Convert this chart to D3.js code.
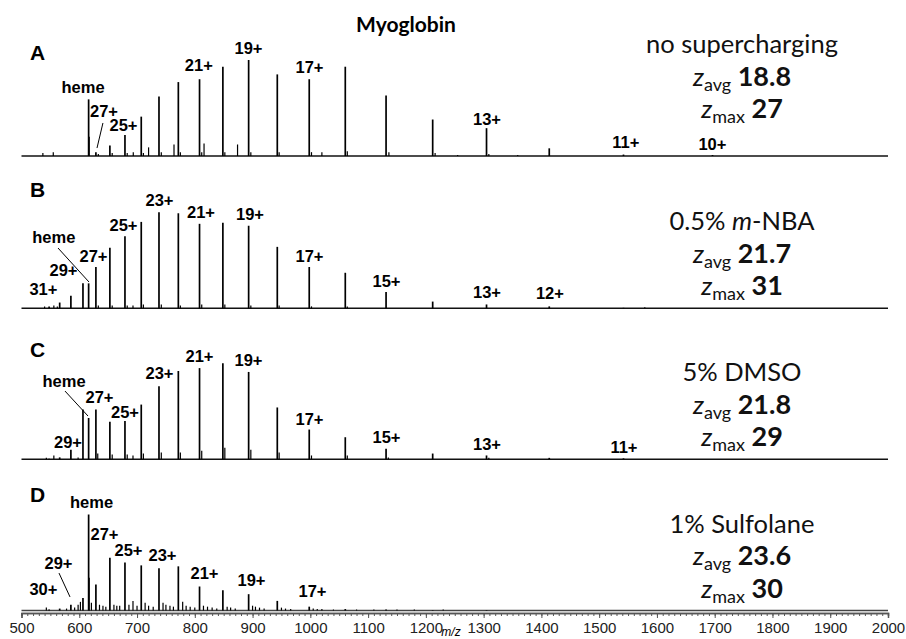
<!DOCTYPE html>
<html>
<head>
<meta charset="utf-8">
<script src="https://cdn.jsdelivr.net/npm/d3@7"></script>
<style>
  body { margin: 0; background: #fff; }
  svg { display: block; }
  .peak { stroke: #000; stroke-width: 1.7; }
  .minor { stroke: #000; stroke-width: 1.2; }
  .charge { font-family: "Liberation Sans", Arial, sans-serif; font-weight: bold; font-size: 16.5px; fill: #000; }
  .panelLetter { font-family: "Liberation Sans", Arial, sans-serif; font-weight: bold; font-size: 21px; }
  .cond { font-family: Lato, "Open Sans", sans-serif; font-size: 25.5px; fill: #111; }
  .axisLabels { font-family: "Liberation Sans", Arial, sans-serif; font-size: 15px; fill: #222; }
</style>
</head>
<body>
<div id="chart"></div>
<script>
// charge states of myoglobin and their m/z (read from the peak positions)
var chargeStates = [31, 30, 29, 28, 27, 26, 25, 24, 23, 22, 21, 20, 19, 18, 17, 16, 15, 14, 13, 12, 11, 10];
var peakMz = [547.8, 566.1, 585.5, 606.4, 628.8, 653.0, 679.1, 707.3, 738.0, 771.5, 808.2, 848.6,
              893.2, 942.8, 998.1, 1060.5, 1131.1, 1211.8, 1305.0, 1413.6, 1542.1, 1696.2];
var hemeMz = 616.2;

// relative intensities (%) per panel, same order as chargeStates
var intensA = [0, 0, 0, 0, 4, 11, 22, 41, 62, 77, 80, 93, 100, 85, 80, 93, 63, 38, 29, 8, 1.5, 1];
var intensB = [2, 6, 13, 26, 43, 63, 75, 90, 100, 99, 88, 89, 86, 64, 43, 37, 17, 7, 4, 2, 0.5, 0];
var intensC = [0.5, 2, 10, 52, 52, 39, 40, 57, 76, 92, 95, 100, 91, 54, 31, 23, 11, 6, 4, 1.5, 1, 0];
var intensD = [1, 2, 6, 13, 27, 55, 50, 47, 44, 46, 25, 21, 17, 10, 4, 1.5, 1, 0.5, 0.5, 0, 0, 0];
var hemeInt = [59, 26, 43, 100];

// small peaks (adducts / noise) per panel: [m/z, %]
var minorA = [[537, 3], [555, 4], [617.2, 20], [633, 2], [657, 3], [683, 3], [693.5, 4], [711, 3], [720, 9],
              [742, 4], [764, 12], [775, 4], [812, 4], [816, 13], [852, 4], [874, 12], [897, 4], [946, 4],
              [1002, 4], [1020, 4], [1064, 5], [1136, 4], [1216, 3], [1255, 1], [1309, 2], [1359, 1]];
var minorB = [[540, 2], [556, 3], [562, 2], [633, 3], [657, 3], [683, 3], [693, 3], [711, 4], [742, 4],
              [775, 3], [812, 4], [852, 4], [897, 3], [946, 3], [1002, 2], [1064, 2], [1579, 1]];
var minorC = [[543, 1.5], [556, 4], [598, 2], [632, 6], [657, 5], [683, 5], [693, 4], [711, 6], [742, 7],
              [775, 7], [812, 9], [852, 12], [897, 10], [946, 7], [1002, 4], [1064, 4], [1135, 2], [1309, 1.5]];
var minorD = [[543, 3], [578, 2], [592, 3], [598, 6], [602, 9], [617.2, 34], [621, 8], [635, 6], [641, 5],
              [646, 4], [660, 6], [665, 5], [670, 5], [686, 6], [693, 10], [700, 5], [714, 8], [720, 5],
              [728, 4], [745, 8], [750, 6], [757, 5], [763, 4], [779, 9], [785, 5], [792, 4], [800, 3],
              [815, 5], [822, 4], [830, 3], [838, 2], [856, 4], [862, 3], [870, 2], [900, 5], [905, 4],
              [912, 3], [920, 2], [950, 3], [957, 2], [966, 1.5], [1005, 2], [1012, 1.5], [1020, 1.5],
              [1040, 1], [1080, 1], [1110, 1], [1150, 1], [1180, 1], [1230, 1]];

// charge-state labels: [text, m/z, level %]
var labelsA = [["heme", 606.5, 65.6], ["27+", 642.8, 40.6], ["25+", 676.6, 26], ["21+", 807, 88.5],
               ["19+", 893, 106], ["17+", 998.5, 86.5], ["13+", 1305.8, 32.3], ["11+", 1546, 8.3], ["10+", 1696, 6.3]];
var labelsB = [["heme", 556, 68], ["29+", 572.7, 33.6], ["27+", 624.6, 48.2], ["31+", 538, 13.9],
               ["25+", 676.6, 80.5], ["23+", 738.9, 106.6], ["21+", 810.7, 94], ["19+", 895.5, 92],
               ["17+", 998.5, 48.2], ["15+", 1131.8, 22.2], ["13+", 1305.8, 10.7], ["12+", 1414.8, 9.7]];
var labelsC = [["heme", 573.6, 75.3], ["27+", 635, 58.6], ["25+", 679.2, 43], ["23+", 738.9, 83.6],
               ["21+", 808.1, 101.4], ["19+", 893, 97.2], ["17+", 998.5, 35.7], ["15+", 1131.8, 17],
               ["29+", 580.5, 11.8], ["13+", 1305.8, 9.7], ["11+", 1542.9, 6.6]];
var labelsD = [["heme", 621.2, 106.8], ["27+", 643.7, 73.4], ["25+", 685.2, 56.8], ["23+", 744.1, 51.6],
               ["21+", 816.8, 32.8], ["19+", 898.1, 25.5], ["17+", 1003.7, 14.1], ["29+", 564, 43.2], ["30+", 538, 16.1]];

// leader lines: [m/z1, level1, m/z2, level2]
var leadersA = [[641, 34.4, 630.7, 8.3]];
var leadersB = [[563.2, 62.8, 616.8, 27.4]];
var leadersC = [[575.3, 71.1, 615.1, 45.1]];
var leadersD = [[564.9, 39, 584, 14.1]];

var conditions = [["no supercharging"], ["0.5% ", "m", "-NBA"], ["5% DMSO"], ["1% Sulfolane"]];
var zAvg = ["18.8", "21.7", "21.8", "23.6"];
var zMax = ["27", "31", "29", "30"];
var panelNames = ["A", "B", "C", "D"];

var xTickLabels = [500, 600, 700, 800, 900, 1000, 1100, 1200, 1300, 1400, 1500, 1600, 1700, 1800, 1900, 2000];

var width = 906, height = 639;
var svg = d3.select("#chart").append("svg")
    .attr("width", width)
    .attr("height", height);

var x = d3.scaleLinear().domain([500, 2000]).range([21.5, 888]);

var bases = [156, 308.3, 459.3, 610.5];
var textTop = [-103, -78, -78, -78];
var letterY = [60, 197, 357, 502];

var panels = [
    {intens: intensA, minor: minorA, labels: labelsA, leaders: leadersA},
    {intens: intensB, minor: minorB, labels: labelsB, leaders: leadersB},
    {intens: intensC, minor: minorC, labels: labelsC, leaders: leadersC},
    {intens: intensD, minor: minorD, labels: labelsD, leaders: leadersD}
];

panels.forEach(function(p, i) {
    var base = bases[i];
    var y = d3.scaleLinear().domain([0, 100]).range([base, base - 96]);
    var g = svg.append("g");

    // baseline
    g.append("line")
        .attr("x1", x(500)).attr("x2", x(2000))
        .attr("y1", y(0)).attr("y2", y(0))
        .attr("stroke", i == 3 ? "#444" : "#111")
        .attr("stroke-width", 1.5);

    // small peaks
    g.selectAll(".minor").data(p.minor).enter().append("line")
        .attr("class", "minor")
        .attr("x1", function(d) { return x(d[0]); })
        .attr("x2", function(d) { return x(d[0]); })
        .attr("y1", y(0))
        .attr("y2", function(d) { return y(d[1]); });

    // charge state peaks
    var main = peakMz.map(function(m, k) { return [m, p.intens[k]]; })
        .filter(function(d) { return d[1] > 0; });
    main.push([hemeMz, hemeInt[i]]);
    g.selectAll(".peak").data(main).enter().append("line")
        .attr("class", "peak")
        .attr("x1", function(d) { return x(d[0]); })
        .attr("x2", function(d) { return x(d[0]); })
        .attr("y1", y(0))
        .attr("y2", function(d) { return y(d[1]); });

    // labels
    g.selectAll(".charge").data(p.labels).enter().append("text")
        .attr("class", "charge")
        .attr("x", function(d) { return x(d[1]); })
        .attr("y", function(d) { return y(d[2]); })
        .style("text-anchor", "middle")
        .text(function(d) { return d[0]; });

    g.selectAll(".leader").data(p.leaders).enter().append("line")
        .attr("x1", function(d) { return x(d[0]); })
        .attr("y1", function(d) { return y(d[1]); })
        .attr("x2", function(d) { return x(d[2]); })
        .attr("y2", function(d) { return y(d[3]); })
        .attr("stroke", "#000")
        .attr("stroke-width", 1);

    // panel letter
    g.append("text")
        .attr("class", "panelLetter")
        .attr("x", 30)
        .attr("y", letterY[i])
        .text(panelNames[i]);

    // condition text on the right
    var cx = 742;
    var t = g.append("text").attr("class", "cond")
        .attr("x", cx).attr("y", base + textTop[i])
        .style("text-anchor", "middle");
    conditions[i].forEach(function(s, k) {
        t.append("tspan").style("font-style", (i == 1 && k == 1) ? "italic" : "normal").text(s);
    });

    [[zAvg[i], "avg"], [zMax[i], "max"]].forEach(function(z, k) {
        var tz = g.append("text").attr("class", "cond")
            .attr("x", cx).attr("y", base + textTop[i] + 32.5 * (k + 1))
            .style("text-anchor", "middle");
        tz.append("tspan").style("font-style", "italic").style("font-size", "26px").text("z");
        tz.append("tspan").style("font-size", "18px").attr("dy", 5).text(z[1]);
        tz.append("tspan").style("font-weight", "bold").style("font-size", "27px").attr("dy", -5).text(" " + z[0]);
    });
});

// x axis under panel D
var axisY = 613;
svg.append("g")
    .attr("class", "minorAxis")
    .attr("transform", "translate(0," + axisY + ")")
    .call(d3.axisBottom(x).tickValues(d3.range(500, 2001, 10)).tickSize(3).tickFormat(""));
svg.append("g")
    .attr("class", "xaxis")
    .attr("transform", "translate(0," + axisY + ")")
    .call(d3.axisBottom(x).tickValues(xTickLabels).tickSize(5).tickPadding(4).tickFormat(d3.format("d")));

svg.selectAll(".minorAxis path, .xaxis path").attr("stroke", "#555").attr("stroke-width", 1.5);
svg.selectAll(".minorAxis line, .xaxis line").attr("stroke", "#555");
svg.selectAll(".xaxis text").attr("class", "axisLabels");

svg.append("text")
    .attr("x", 451).attr("y", 636)
    .style("font-family", "Liberation Sans, Arial, sans-serif")
    .style("font-style", "italic")
    .style("font-size", "12px")
    .style("text-anchor", "middle")
    .text("m/z");

// title
svg.append("text")
    .attr("x", 406).attr("y", 32)
    .style("font-family", "Lato, 'Open Sans', sans-serif")
    .style("font-weight", "bold")
    .style("font-size", "21px")
    .style("text-anchor", "middle")
    .text("Myoglobin");
</script>
</body>
</html>
